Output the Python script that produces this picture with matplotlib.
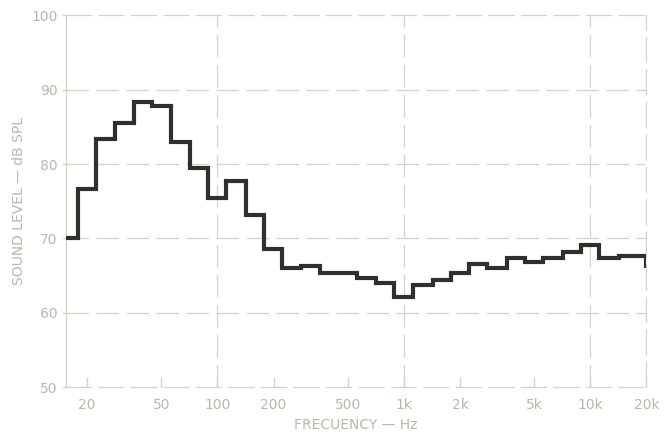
import numpy as np
import matplotlib
matplotlib.use("Agg")
import matplotlib.pyplot as plt

# third-octave band centres (Hz) and measured levels (dB SPL)
band_centres = [16, 20, 25, 31.5, 40, 50, 63, 80, 100, 125, 160, 200, 250, 315,
                400, 500, 630, 800, 1000, 1250, 1600, 2000, 2500, 3150, 4000,
                5000, 6300, 8000, 10000, 12500, 16000]
band_levels = [70.0, 76.7, 83.4, 85.5, 88.3, 87.8, 83.0, 79.5, 75.4, 77.7, 73.2,
               68.6, 66.0, 66.3, 65.4, 65.3, 64.7, 64.0, 62.1, 63.7, 64.4, 65.4,
               66.6, 66.0, 67.3, 66.8, 67.4, 68.2, 69.1, 67.4, 67.7]
end_level = 66.0

xticks = [20, 50, 100, 200, 500, 1000, 2000, 5000, 10000, 20000]
xticklabels = ["20", "50", "100", "200", "500", "1k", "2k", "5k", "10k", "20k"]
yticks = [50, 60, 70, 80, 90, 100]

pale = "#d4d4c4"
text_c = "#b8b8a6"
ink = "#2e3129"

fig = plt.figure(figsize=(6.67, 4.36), dpi=100)
ax = fig.add_axes([0.099, 0.112, 0.870, 0.853])

centres = np.array(band_centres)
edges = np.append(centres * 2 ** (-1 / 6), 20000)
ax.stairs(band_levels, edges, baseline=None, color=ink, lw=3.0, zorder=3)
ax.plot([edges[-1], edges[-1]], [band_levels[-1], end_level], color=ink, lw=3.0,
        zorder=3, solid_capstyle="butt")

ax.set_xscale("log")
ax.set_xlim(15.4, 20000)
ax.set_ylim(50, 100)

# grid
for y in [60, 70, 80, 90]:
    ax.axhline(y, color=pale, lw=0.9, ls=(0, (18, 6)), zorder=1)
for x in [100, 1000, 10000]:
    ax.axvline(x, color=pale, lw=0.9, ls=(0, (18, 6)), zorder=1)

for s in ["top", "right", "bottom"]:
    ax.spines[s].set_linestyle((0, (20, 6)))
for s in ax.spines.values():
    s.set_color(pale)
    s.set_linewidth(0.9)

ax.set_xticks(xticks)
ax.set_xticklabels(xticklabels)
ax.xaxis.set_minor_locator(matplotlib.ticker.NullLocator())
ax.set_yticks(yticks)
ax.tick_params(axis="x", direction="in", length=7, width=1, color=pale,
               labelcolor=text_c, labelsize=10, pad=8)
ax.tick_params(axis="y", direction="out", length=3, width=1, color=pale,
               labelcolor=text_c, labelsize=10, pad=3)

ax.set_xlabel("FRECUENCY — Hz", color=text_c, fontsize=10, labelpad=4)
ax.set_ylabel("SOUND LEVEL — dB SPL", color=text_c, fontsize=10, labelpad=4)

fig.savefig("out.png", dpi=100)
